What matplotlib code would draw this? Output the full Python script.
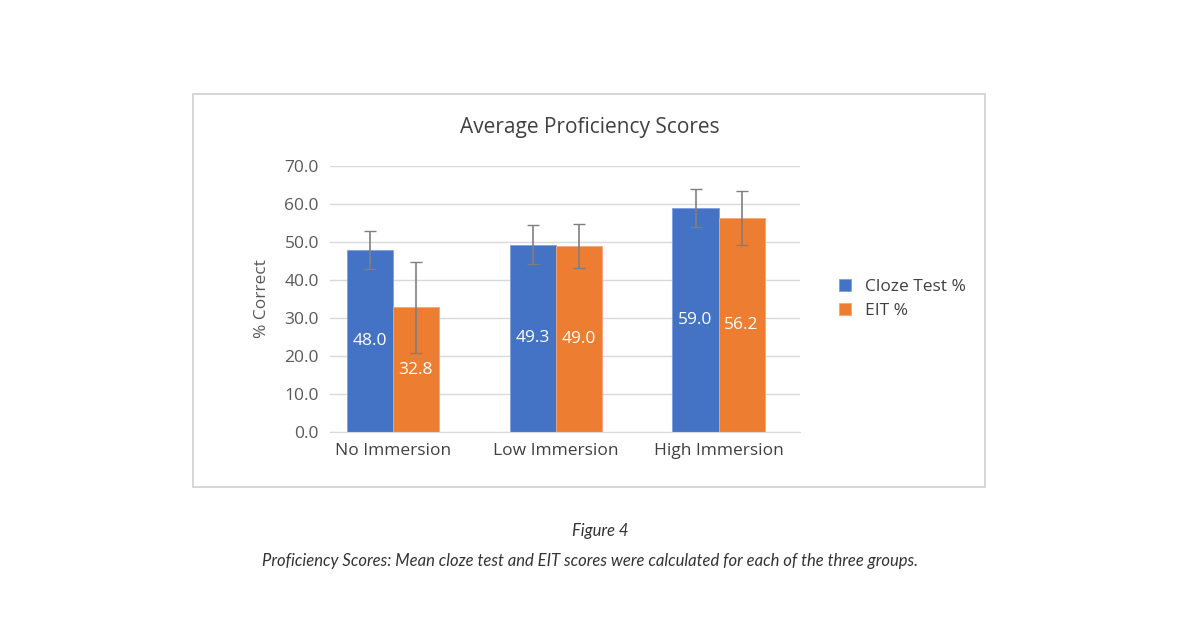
import matplotlib
matplotlib.use("Agg")
import matplotlib.pyplot as plt
from matplotlib.patches import Rectangle
import numpy as np

categories = ["No Immersion", "Low Immersion", "High Immersion"]
cloze = [48.0, 49.3, 59.0]
eit = [32.8, 49.0, 56.2]
cloze_err = [5.0, 5.1, 5.0]
eit_err = [11.9, 5.8, 7.1]
yticks = [0, 10, 20, 30, 40, 50, 60, 70]

plt.rcParams['font.family'] = ['Open Sans', 'DejaVu Sans']
W, H = 1200, 634
fig = plt.figure(figsize=(12, 6.34), dpi=100)
fig.patches.append(Rectangle((193/W, 1-487/H), (985-193)/W, (487-94)/H, transform=fig.transFigure,
                             fill=False, edgecolor='#d0d0d0', lw=1.2))
ax = fig.add_axes([330/W, 1-432/H, 470/W, 266/H])
x = np.arange(len(categories))
bw = 0.283
blue, orange = '#4472C4', '#ED7D31'
b1 = ax.bar(x - bw/2, cloze, bw, color=blue, edgecolor='#7fa0dc', lw=0.6, zorder=2)
b2 = ax.bar(x + bw/2, eit, bw, color=orange, edgecolor='#f4a57a', lw=0.6, zorder=2)
ax.errorbar(x - bw/2, cloze, yerr=cloze_err, fmt='none', ecolor='#7f7f7f', elinewidth=1.2, capsize=4, zorder=3)
ax.errorbar(x + bw/2, eit, yerr=eit_err, fmt='none', ecolor='#7f7f7f', elinewidth=1.2, capsize=4, zorder=3)
for xs, vals in ((x - bw/2, cloze), (x + bw/2, eit)):
    for xi, v in zip(xs, vals):
        ax.text(xi, v/2, f"{v:.1f}", ha='center', va='center', color='white', fontsize=12.5, zorder=4)
ax.set_xlim(-0.386, 2.5)
ax.set_ylim(0, 70)
ax.set_yticks(yticks)
ax.set_yticklabels([f"{t:.1f}" for t in yticks], fontsize=12.5, color='#595959')
ax.set_xticks(x)
ax.set_xticklabels(categories, fontsize=12.5, color='#404040')
ax.tick_params(length=0, pad=8)
ax.grid(axis='y', color='#d9d9d9', lw=1, zorder=0)
for s in ['top', 'right', 'left']:
    ax.spines[s].set_visible(False)
ax.spines['bottom'].set_color('#d9d9d9')
ax.set_ylabel("% Correct", fontsize=12.5, color='#595959', labelpad=10)
fig.text(590/W, 1-127/H, "Average Proficiency Scores", ha='center', va='center', fontsize=15, color='#404040')
ax.legend([b1, b2], ["Cloze Test %", "EIT %"], loc='center left', bbox_to_anchor=(1.05, 0.5),
          frameon=False, fontsize=12.5, handlelength=0.7, handleheight=0.7, labelcolor='#404040')
fig.text(W/2/W, 1-531/H, "Figure 4", ha='center', va='center', fontsize=12, style='italic', color='#333333', family='Lato')
fig.text(590/W, 1-561/H, "Proficiency Scores: Mean cloze test and EIT scores were calculated for each of the three groups.",
         ha='center', va='center', fontsize=12, style='italic', color='#333333', family='Lato')
fig.savefig("out.png", dpi=100, facecolor='white')
